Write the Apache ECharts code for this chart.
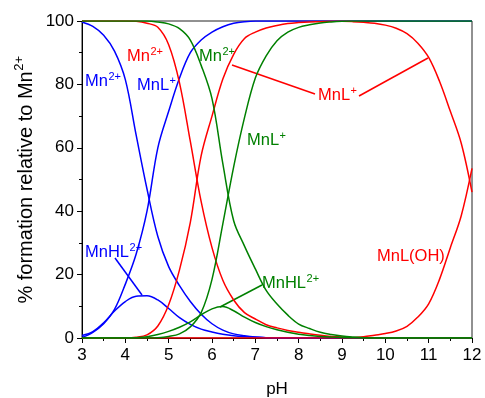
<!DOCTYPE html>
<html>
<head>
<meta charset="utf-8">
<script src="https://cdn.jsdelivr.net/npm/echarts@6/dist/echarts.min.js"></script>
<style>
  html, body { margin: 0; padding: 0; background: #fff; }
  #chart { width: 485px; height: 398px; }
</style>
</head>
<body>
<div id="chart"></div>
<script>
// pH grid (0.25 steps)
const pH = [3, 3.25, 3.5, 3.75, 4, 4.25, 4.5, 4.75, 5, 5.25, 5.5, 5.75, 6, 6.25, 6.5, 6.75,
  7, 7.25, 7.5, 7.75, 8, 8.25, 8.5, 8.75, 9, 9.25, 9.5, 9.75, 10, 10.25, 10.5, 10.75,
  11, 11.25, 11.5, 11.75, 12];

// blue system
const blueMn = [99.7, 98.3, 95.5, 90.5, 81.5, 64, 47, 32, 22.5, 16.5, 11.5, 7.5, 4.5, 2.5, 1.3, 0.7,
  0.3, 0.1, 0, 0, 0, 0, 0, 0, 0, 0, 0, 0, 0, 0, 0, 0, 0, 0, 0, 0, 0];
const blueMnL = [0.2, 1.8, 4.5, 9, 17, 26.5, 40, 60, 71.5, 82, 90, 94, 96.5, 98.2, 99.3, 99.8,
  100, 100, 100, 100, 100, 100, 100, 100, 100, 100, 100, 100, 100, 100, 100, 100, 100, 100, 100, 100, 100];
const blueMnHL = [0.8, 2.0, 4.8, 8.5, 11.5, 13.2, 13.3, 12, 9.3, 6.4, 4.3, 2.8, 1.9, 1.2, 0.7, 0.4,
  0.2, 0.1, 0, 0, 0, 0, 0, 0, 0, 0, 0, 0, 0, 0, 0, 0, 0, 0, 0, 0, 0];

// red system
const redMn = [100, 100, 100, 100, 100, 99.9, 99.3, 98, 92.5, 80.5, 62, 43, 28.5, 18.2, 12, 8,
  6, 4.2, 3.2, 2.4, 1.8, 1.3, 0.85, 0.5, 0.3, 0.1, 0, 0, 0, 0, 0, 0, 0, 0, 0, 0, 0];
const redMnL = [0, 0, 0, 0, 0, 0.2, 1, 3.8, 10.5, 21.5, 36.5, 57.5, 70, 81.7, 89.5, 94.5,
  96.5, 97.8, 98.6, 99.2, 99.5, 99.7, 99.8, 99.9, 99.9, 99.8, 99.6, 99.3, 98.7, 97.7, 96, 93,
  88.5, 81, 71.5, 61.5, 46];
const redMnLOH = [0, 0, 0, 0, 0, 0, 0, 0, 0, 0, 0, 0, 0, 0, 0, 0,
  0, 0, 0, 0, 0, 0, 0, 0, 0, 0.1, 0.4, 0.9, 1.4, 2.2, 3.7, 6.6,
  10.8, 18.5, 28.5, 38.5, 53.5];

// green system
const greenMn = [100, 100, 100, 100, 100, 100, 100, 99.7, 99.1, 97.6, 94, 86, 75.5, 55, 37, 29,
  21.8, 15, 10.7, 7.2, 4.4, 3, 1.8, 1.1, 0.6, 0.3, 0.1, 0, 0, 0, 0, 0, 0, 0, 0, 0, 0];
const greenMnL = [0, 0, 0, 0, 0, 0, 0, 0.1, 0.5, 1.3, 3.5, 8, 18.5, 36, 54, 69.5,
  82, 89, 93.8, 96.5, 98, 98.8, 99.4, 99.7, 99.9, 100, 100, 100, 100, 100, 100, 100,
  100, 100, 100, 100, 100];
const greenMnHL = [0, 0, 0, 0, 0, 0.1, 0.4, 1.1, 2.1, 3.4, 5.1, 7.3, 9.2, 9.9, 8.6, 6.6,
  4.9, 3.6, 2.6, 1.8, 1.2, 0.8, 0.5, 0.3, 0.15, 0.05, 0, 0, 0, 0, 0, 0, 0, 0, 0, 0, 0];

const BLUE = '#0000ff', RED = '#ff0000', GREEN = '#008000';
const FONT = '"Liberation Sans", Arial, sans-serif';

const chart = echarts.init(document.getElementById('chart'));

function makeSeries(name, values, color) {
  return {
    name: name,
    type: 'line',
    data: pH.map((x, i) => [x, values[i]]),
    smooth: 0.35,
    symbol: 'none',
    lineStyle: { color: color, width: 1.5 },
    silent: true
  };
}

// measure text so superscripts sit right after the base text
const ctx = document.createElement('canvas').getContext('2d');
function textW(str, size) {
  ctx.font = size + 'px ' + FONT;
  return ctx.measureText(str).width;
}

// label with optional superscript; x = left, y = baseline (pixels)
function label(x, y, base, sup, color) {
  const fs = 16.5, ss = 11;
  const out = [{
    type: 'text', x: x, y: y - 0.35 * fs,
    style: { text: base, fill: color, font: fs + 'px ' + FONT, align: 'left', verticalAlign: 'middle' }
  }];
  if (sup) {
    out.push({
      type: 'text', x: x + textW(base, fs) + 0.5, y: y - 10,
      style: { text: sup, fill: color, font: ss + 'px ' + FONT, align: 'left', verticalAlign: 'middle' }
    });
  }
  return out;
}

function leader(x1, y1, x2, y2, color) {
  return { type: 'line', shape: { x1: x1, y1: y1, x2: x2, y2: y2 }, style: { stroke: color, lineWidth: 1.5 } };
}

// y axis title, rotated, with superscript
const yBase = '% formation relative to Mn';
const yFs = 20, ySs = 13;
const yBw = textW(yBase, yFs), ySw = textW('2+', ySs);
const yTitle = {
  type: 'group', x: 26, y: 180, rotation: Math.PI / 2,
  children: [
    { type: 'text', x: -ySw / 2, y: 0,
      style: { text: yBase, fill: '#000', font: yFs + 'px ' + FONT, align: 'center', verticalAlign: 'middle' } },
    { type: 'text', x: yBw / 2 - ySw / 2 + 0.5, y: -7,
      style: { text: '2+', fill: '#000', font: ySs + 'px ' + FONT, align: 'left', verticalAlign: 'middle' } }
  ]
};

const graphics = [].concat(
  label(85, 87, 'Mn', '2+', BLUE),
  label(137, 91, 'MnL', '+', BLUE),
  label(85, 258, 'MnHL', '2+', BLUE),
  leader(115, 258, 142, 295, BLUE),
  label(127, 62, 'Mn', '2+', RED),
  label(318, 101, 'MnL', '+', RED),
  leader(232, 65, 315, 94, RED),
  leader(359, 96, 428, 58, RED),
  label(377, 262, 'MnL(OH)', null, RED),
  label(199, 62, 'Mn', '2+', GREEN),
  label(247, 146, 'MnL', '+', GREEN),
  label(262, 289, 'MnHL', '2+', GREEN),
  leader(262, 285, 220, 307, GREEN),
  [yTitle,
   { type: 'text', x: 277, y: 389,
     style: { text: 'pH', fill: '#000', font: '17px ' + FONT, align: 'center', verticalAlign: 'middle' } }]
);

const option = {
  animation: false,
  backgroundColor: '#fff',
  grid: { left: 82, right: 13, top: 21, bottom: 60, show: true, borderColor: '#222', borderWidth: 1 },
  xAxis: {
    type: 'value', min: 3, max: 12, interval: 1,
    axisLine: { lineStyle: { color: '#000', width: 1 } },
    axisTick: { inside: false, length: 5, lineStyle: { color: '#000' } },
    minorTick: { show: true, splitNumber: 2, length: 3, lineStyle: { color: '#000' } },
    splitLine: { show: false },
    axisLabel: { color: '#000', fontSize: 17, fontFamily: FONT, margin: 9 }
  },
  yAxis: {
    type: 'value', min: 0, max: 100, interval: 20,
    axisLine: { show: true, lineStyle: { color: '#000', width: 1 } },
    axisTick: { show: true, inside: false, length: 5, lineStyle: { color: '#000' } },
    minorTick: { show: true, splitNumber: 2, length: 3, lineStyle: { color: '#000' } },
    splitLine: { show: false },
    axisLabel: { color: '#000', fontSize: 17, fontFamily: FONT, margin: 8 }
  },
  series: [
    makeSeries('blue Mn2+', blueMn, BLUE),
    makeSeries('blue MnL+', blueMnL, BLUE),
    makeSeries('blue MnHL2+', blueMnHL, BLUE),
    makeSeries('red Mn2+', redMn, RED),
    makeSeries('red MnL+', redMnL, RED),
    makeSeries('red MnL(OH)', redMnLOH, RED),
    makeSeries('green Mn2+', greenMn, GREEN),
    makeSeries('green MnL+', greenMnL, GREEN),
    makeSeries('green MnHL2+', greenMnHL, GREEN)
  ],
  graphic: graphics
};

chart.setOption(option);
</script>
</body>
</html>
